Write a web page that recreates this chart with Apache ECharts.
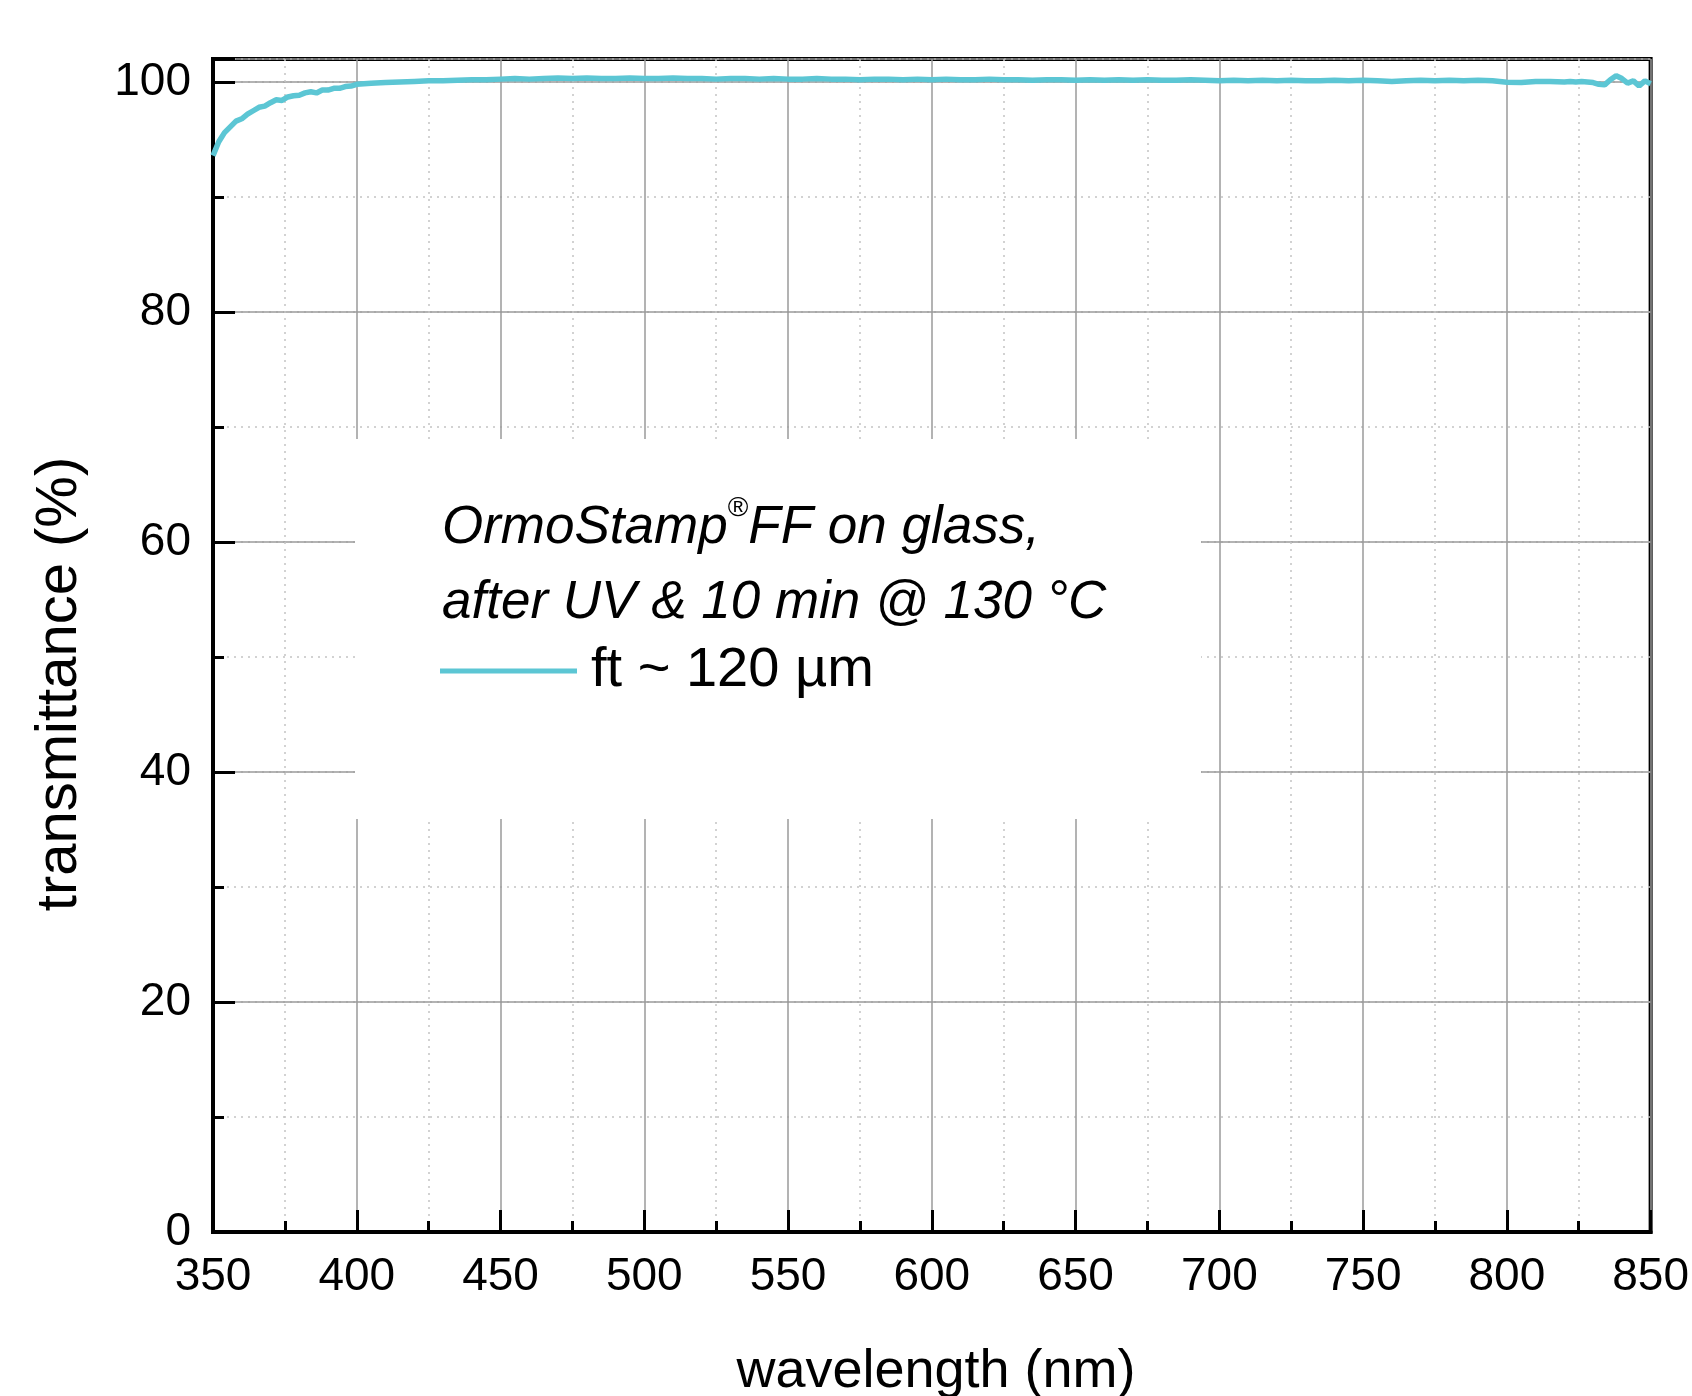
<!doctype html>
<html lang="en">
  <head>
    <meta charset="UTF-8" />
    <title>OrmoStamp transmittance</title>
    <script src="https://cdn.jsdelivr.net/npm/echarts@6/dist/echarts.min.js"></script>
    <style>
      body {
        margin: 0;
        padding: 0;
        background: #fff;
      }
      #main {
        width: 1692px;
        height: 1396px;
      }
    </style>
  </head>
  <body>
    <div id="main"></div>
    <script>
      // wavelength (nm) and transmittance (%)
      const wavelengths = [
        350, 352, 354, 356, 358, 360, 362, 364, 366, 368, 370, 372, 374, 376, 378, 380, 382, 384, 386, 388, 390, 392, 394, 396, 398,
        400, 405, 410, 415, 420, 425, 430, 435, 440, 445, 450, 455, 460, 465, 470, 475, 480, 485, 490, 495,
        500, 505, 510, 515, 520, 525, 530, 535, 540, 545, 550, 555, 560, 565, 570, 575, 580, 585, 590, 595,
        600, 605, 610, 615, 620, 625, 630, 635, 640, 645, 650, 655, 660, 665, 670, 675, 680, 685, 690, 695,
        700, 705, 710, 715, 720, 725, 730, 735, 740, 745, 750, 755, 760, 765, 770, 775, 780, 785, 790, 795,
        800, 805, 810, 815, 820, 822, 824, 826, 828, 830, 832, 834, 836, 838, 840, 842, 844, 846, 848, 850,
      ];
      const transmittance = [
        93.6, 94.8, 95.6, 96.1, 96.6, 96.8, 97.2, 97.5, 97.8, 97.9, 98.2, 98.45, 98.4, 98.7, 98.8, 98.85, 99.05, 99.15, 99.05, 99.3, 99.3, 99.45, 99.45, 99.6, 99.65,
        99.8, 99.9, 99.95, 100.0, 100.05, 100.1, 100.1, 100.15, 100.2, 100.2, 100.25, 100.3, 100.25, 100.3, 100.35, 100.3, 100.35, 100.3, 100.3, 100.35,
        100.3, 100.3, 100.35, 100.3, 100.3, 100.25, 100.3, 100.3, 100.25, 100.3, 100.25, 100.25, 100.3, 100.25, 100.25, 100.2, 100.25, 100.25, 100.2, 100.25,
        100.2, 100.25, 100.2, 100.2, 100.25, 100.2, 100.2, 100.15, 100.2, 100.2, 100.15, 100.2, 100.15, 100.2, 100.15, 100.2, 100.15, 100.15, 100.2, 100.15,
        100.1, 100.15, 100.1, 100.15, 100.1, 100.15, 100.1, 100.1, 100.15, 100.1, 100.15, 100.1, 100.05, 100.1, 100.15, 100.1, 100.15, 100.1, 100.15, 100.1,
        99.97, 99.95, 100.05, 100.05, 100.0, 100.05, 100.0, 100.05, 100.0, 99.95, 99.8, 99.75, 100.2, 100.55, 100.3, 99.9, 100.1, 99.65, 100.1, 99.85,
      ];
      const seriesName = "ft ~ 120 µm";
      const noteLine1 = "{a|OrmoStamp}{r|®}{a|FF on glass,}";
      const noteLine2 = "after UV & 10 min @ 130 °C";

      const font = "Liberation Sans, Arial, sans-serif";
      const lineColor = "#5cc6d4";

      const chart = echarts.init(document.getElementById("main"));

      const option = {
        animation: false,
        backgroundColor: "#fff",
        grid: {
          left: 213,
          right: 34,
          top: 59,
          bottom: 164,
          show: true,
          borderColor: "#000",
          borderWidth: 4,
        },
        legend: {
          left: 435,
          top: 638,
          icon: "rect",
          itemWidth: 137,
          itemHeight: 5,
          data: [seriesName],
          textStyle: { fontSize: 56, fontFamily: font, color: "#000", padding: [0, 0, 0, 9] },
          z: 6,
        },
        xAxis: {
          type: "value",
          min: 350,
          max: 850,
          interval: 50,
          axisLine: { lineStyle: { color: "#000", width: 4 } },
          axisTick: { inside: true, length: 22, lineStyle: { color: "#000", width: 3 } },
          minorTick: { show: true, splitNumber: 2, length: 11, lineStyle: { color: "#000", width: 3 } },
          axisLabel: { fontSize: 46, fontFamily: font, color: "#000", margin: 22 },
          splitLine: { show: true, lineStyle: { color: "#9a9a9a", width: 1.5 } },
          minorSplitLine: { show: true, lineStyle: { color: "#c4c4c4", width: 1.5, type: [2, 5] } },
        },
        yAxis: [
          {
            // minor grid every 10
            type: "value",
            min: 0,
            max: 102,
            interval: 10,
            axisLine: { lineStyle: { color: "#000", width: 4 } },
            axisTick: { inside: true, length: 11, lineStyle: { color: "#000", width: 3 } },
            axisLabel: { show: false },
            splitLine: { show: true, lineStyle: { color: "#c4c4c4", width: 1.5, type: [2, 5] } },
          },
          {
            // major grid and labels every 20
            type: "value",
            position: "left",
            min: 0,
            max: 102,
            interval: 20,
            axisLine: { show: false },
            axisTick: { inside: true, length: 22, lineStyle: { color: "#000", width: 3 } },
            axisLabel: {
              fontSize: 46,
              fontFamily: font,
              color: "#000",
              margin: 22,
              padding: [0, 0, 10, 0],
              formatter: (v) => (v % 20 === 0 ? String(v) : ""),
            },
            splitLine: { show: true, lineStyle: { color: "#9a9a9a", width: 1.5 } },
          },
        ],
        series: [
          {
            name: seriesName,
            type: "line",
            yAxisIndex: 0,
            color: lineColor,
            showSymbol: false,
            symbol: "none",
            lineStyle: { color: lineColor, width: 5.5 },
            data: wavelengths.map((w, i) => [w, transmittance[i]]),
          },
        ],
        graphic: [
          {
            type: "rect",
            z: 3,
            shape: { x: 355, y: 439, width: 846, height: 380 },
            style: { fill: "#fff" },
          },
          {
            type: "text",
            z: 5,
            x: 442,
            y: 528,
            style: {
              text: noteLine1,
              verticalAlign: "middle",
              rich: {
                a: { fontSize: 53, fontStyle: "italic", fontFamily: font, fill: "#000", lineHeight: 68 },
                r: { fontSize: 28, fontFamily: font, fill: "#000", verticalAlign: "top", lineHeight: 30 },
              },
            },
          },
          {
            type: "text",
            z: 5,
            x: 442,
            y: 603,
            style: {
              text: noteLine2,
              fontSize: 53,
              fontStyle: "italic",
              fontFamily: font,
              fill: "#000",
              verticalAlign: "middle",
            },
          },
          {
            type: "text",
            z: 5,
            x: 936,
            y: 1372,
            style: {
              text: "wavelength (nm)",
              fontSize: 54,
              fontFamily: font,
              fill: "#000",
              align: "center",
              verticalAlign: "middle",
            },
          },
          {
            type: "text",
            z: 5,
            x: 60,
            y: 684,
            rotation: Math.PI / 2,
            style: {
              text: "transmittance (%)",
              fontSize: 58,
              fontFamily: font,
              fill: "#000",
              align: "center",
              verticalAlign: "middle",
            },
          },
        ],
      };

      chart.setOption(option);
    </script>
  </body>
</html>
